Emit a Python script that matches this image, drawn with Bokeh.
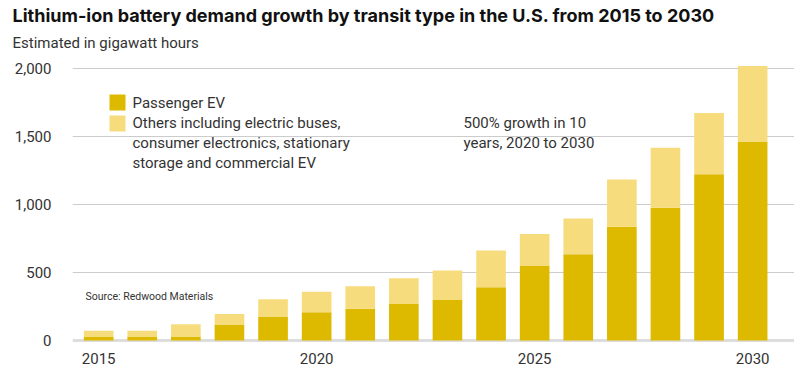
from bokeh.plotting import figure
from bokeh.models import Range1d, FixedTicker, NumeralTickFormatter, Label, BoxAnnotation, Span, ColumnDataSource, Title
from bokeh.embed import file_html
from bokeh.resources import INLINE

years = list(range(2015, 2031))
passenger_ev = [30, 30, 30, 118, 177, 208, 235, 272, 303, 392, 552, 635, 837, 977, 1223, 1461]
others = [43, 43, 90, 78, 127, 152, 165, 186, 212, 270, 231, 263, 347, 440, 450, 558]
series_names = ["Passenger EV",
                "Others including electric buses, consumer electronics, stationary storage and commercial EV"]
legend_lines = [["Passenger EV"],
                ["Others including electric buses,", "consumer electronics, stationary",
                 "storage and commercial EV"]]
colors = ["#DDB900", "#F7DC7D"]
y_ticks = [0, 500, 1000, 1500, 2000]
x_ticks = [2015, 2020, 2025, 2030]
title = "Lithium-ion battery demand growth by transit type in the U.S. from 2015 to 2030"
subtitle = "Estimated in gigawatt hours"
note_lines = ["500% growth in 10", "years, 2020 to 2030"]
source_note = "Source: Redwood Materials"

FONT = "Roboto"
TXT = "#333333"

src = ColumnDataSource(dict(year=years, ev=passenger_ev, oth=others))

FB = 342  # page y of frame bottom
FL = 72   # page x of frame left
FT = 58   # page y of frame top

p = figure(width=794, height=378, output_backend="svg", toolbar_location=None,
           x_range=Range1d(2014.40, 2030.96), y_range=Range1d(-14, 2074),
           min_border_left=FL, min_border_right=0, min_border_top=FT, min_border_bottom=378 - FB)
p.outline_line_color = None
p.background_fill_color = "white"

p.title.text = title
p.title.text_font = "Inter"
p.title.text_font_size = "18px"
p.title.text_font_style = "bold"
p.title.text_color = "#111111"
p.title.align = "left"
p.title.offset = 12 - FL
p.title.standoff = 0

sub_title = Title(text=subtitle, text_font=FONT, text_font_size="15px", text_font_style="normal",
                  text_color=TXT, align="left", offset=12 - FL, standoff=13)
p.add_layout(sub_title, "above")

p.vbar_stack(["ev", "oth"], x="year", width=0.68, color=colors, source=src, line_color=None)

# axes
p.yaxis.ticker = FixedTicker(ticks=y_ticks)
p.yaxis.formatter = NumeralTickFormatter(format="0,0")
p.xaxis.ticker = FixedTicker(ticks=x_ticks)
for ax in (p.xaxis[0], p.yaxis[0]):
    ax.axis_line_color = None
    ax.major_tick_line_color = None
    ax.minor_tick_line_color = None
    ax.major_label_text_font = FONT
    ax.major_label_text_font_size = "15px"
    ax.major_label_text_color = TXT
p.yaxis.major_label_standoff = 15
p.xaxis.major_label_standoff = 4
p.xgrid.grid_line_color = None
p.ygrid.ticker = FixedTicker(ticks=[500, 1000, 1500, 2000])
p.ygrid.grid_line_color = "#CCCCCC"
p.ygrid.grid_line_width = 1

base = Span(location=0, dimension="width", line_color="#DDDDDD", line_width=3, level="underlay")
p.add_layout(base)


def lab(text, px, py, size="15px", style="normal", color=TXT):
    p.add_layout(Label(x=px - FL, y=FB - py, x_units="screen", y_units="screen", text=text,
                       text_font=FONT, text_font_size=size, text_font_style=style,
                       text_color=color, text_baseline="middle", text_align="left"))


# legend
box_tops = [94, 115]
for c, top in zip(colors, box_tops):
    p.add_layout(BoxAnnotation(left=109 - FL, right=125 - FL, top=FB - top, bottom=FB - top - 16,
                               left_units="screen", right_units="screen",
                               top_units="screen", bottom_units="screen",
                               fill_color=c, fill_alpha=1, line_color=None))
ly = 102
for lines in legend_lines:
    for ln in lines:
        lab(ln, 132, ly)
        ly += 20

for i, ln in enumerate(note_lines):
    lab(ln, 463, 122 + 20 * i)

lab(source_note, 85, 296, size="10.5px")

open("out.html", "w").write(file_html(p, INLINE))
